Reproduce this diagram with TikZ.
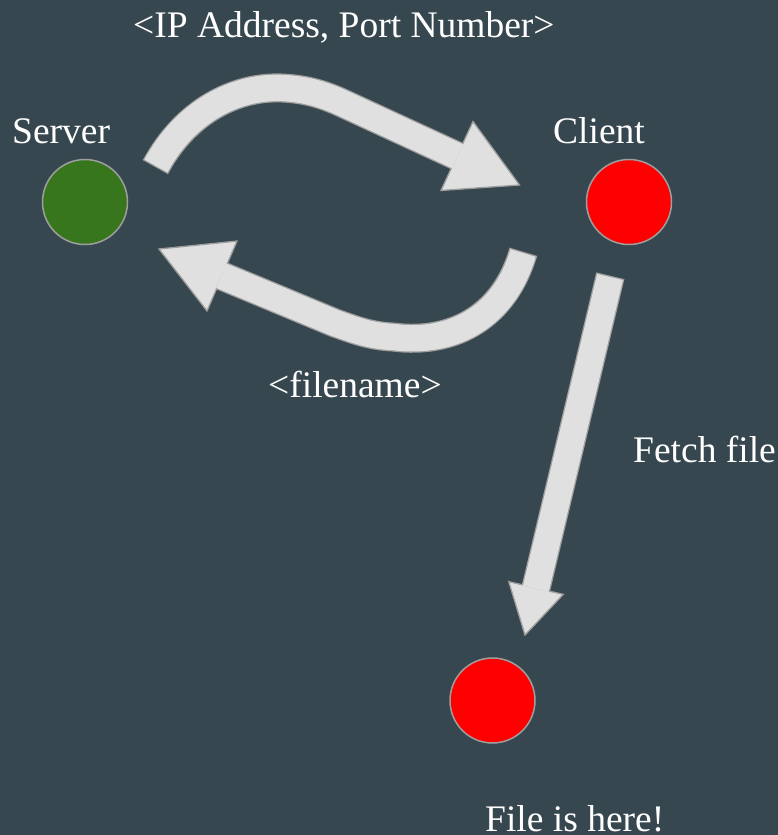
\documentclass[tikz,border=0pt]{standalone}
\usepackage{fontspec}
\setmainfont{Liberation Serif}
\newfontfamily\lblfont{Liberation Serif}
\usetikzlibrary{calc}
\definecolor{bg}{HTML}{37474F}
\definecolor{arrowfill}{HTML}{E0E0E0}
\definecolor{arrowline}{HTML}{9E9E9E}
\definecolor{srvgreen}{HTML}{38761D}
\definecolor{clired}{HTML}{FF0000}
\begin{document}
\begin{tikzpicture}[x=1pt,y=-1pt,
  lbl/.style={text=white, inner sep=0pt, anchor=base west, font=\lblfont\fontsize{37.5}{40}\selectfont},
  dot/.style={circle, draw=arrowline, line width=1.5pt, minimum size=85pt, inner sep=0pt},
  shaftout/.style={draw=arrowline, line width=29pt, shorten <=-1.3pt},
  shaftin/.style={draw=arrowfill, line width=26.4pt, shorten >=-0.8pt},
  headstyle/.style={fill=arrowfill, draw=arrowline, line width=1.3pt, line join=miter}]
\fill[bg] (0,0) rectangle (778,835);
\useasboundingbox (0,0) rectangle (778,835);

% nodes
\node[dot, fill=srvgreen] (server) at (85,202) {};
\node[dot, fill=clired] (client) at (629,202) {};
\node[dot, fill=clired] (dest) at (492.5,700.5) {};

% labels
\node[lbl] (title) at (133,37) {<IP Address, Port Number>};
\node[lbl] (serverlbl) at (12,143) {Server};
\node[lbl] (clientlbl) at (553,143) {Client};
\node[lbl] (fnlbl) at (268,397) {<filename>};
\node[lbl] (fetchlbl) at (633,462) {Fetch file};
\node[lbl] (herelbl) at (485,831) {File is here!};

% arrow 1: server -> client
\coordinate (a1s) at (156,166);
\coordinate (a1m) at (457,156);
\coordinate (a1t) at (519.5,185);
\draw[shaftout] (a1s) .. controls (185,112) and (235,86) .. (282,88) .. controls (305,89) and (322,94) .. (340,102) -- (a1m);
\draw[headstyle] ($(a1m)!38pt!90:(a1t)$) -- (a1t) -- ($(a1m)!38pt!-90:(a1t)$) -- cycle;
\draw[shaftin] (a1s) .. controls (185,112) and (235,86) .. (282,88) .. controls (305,89) and (322,94) .. (340,102) -- (a1m);

% arrow 2: client -> server
\coordinate (a2s) at (523,253);
\coordinate (a2m) at (222,276);
\coordinate (a2t) at (159,249);
\draw[shaftout] (a2s) .. controls (505,315) and (455,345) .. (393,337) .. controls (370,336) and (355,330) .. (335,323) -- (a2m);
\draw[headstyle] ($(a2m)!38pt!90:(a2t)$) -- (a2t) -- ($(a2m)!38pt!-90:(a2t)$) -- cycle;
\draw[shaftin] (a2s) .. controls (505,315) and (455,345) .. (393,337) .. controls (370,336) and (355,330) .. (335,323) -- (a2m);

% arrow 3: fetch file
\coordinate (a3s) at (610,277);
\coordinate (a3m) at (536,588);
\coordinate (a3t) at (525,635);
\draw[shaftout] (a3s) -- (a3m);
\draw[headstyle] ($(a3m)!28pt!90:(a3t)$) -- (a3t) -- ($(a3m)!28pt!-90:(a3t)$) -- cycle;
\draw[shaftin] (a3s) -- (a3m);
\end{tikzpicture}
\end{document}
